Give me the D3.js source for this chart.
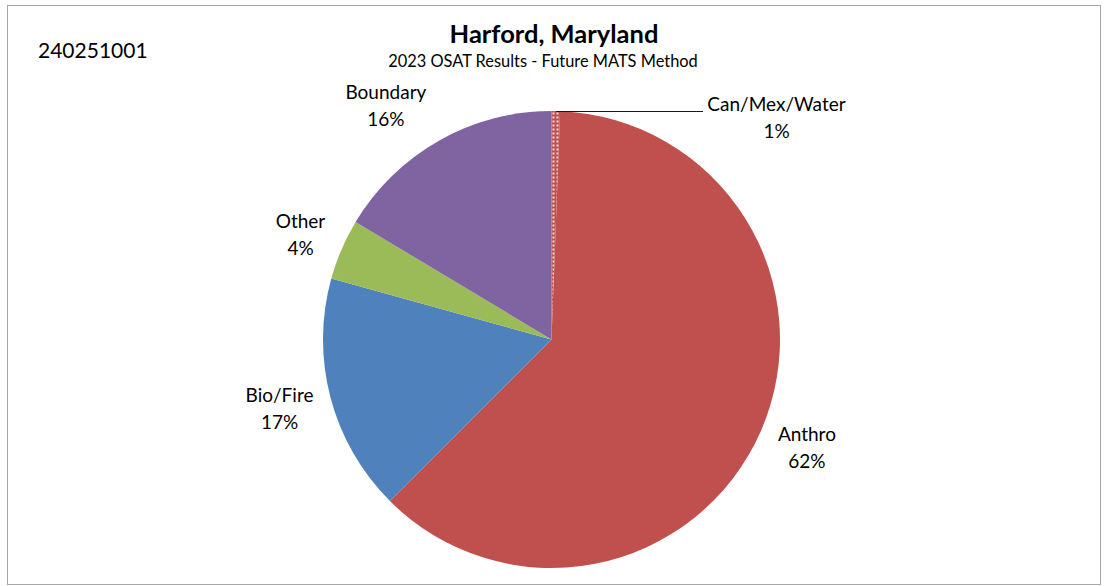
<!DOCTYPE html>
<html><head><meta charset="utf-8">
<script src="https://cdn.jsdelivr.net/npm/d3@7"></script>
<style>body{margin:0;background:#fff}svg{display:block}text{font-family:Lato,"Open Sans",sans-serif;fill:#000}</style>
</head><body><svg id="c" width="1108" height="586"></svg>
<script>
const categories = ["Can/Mex/Water", "Anthro", "Bio/Fire", "Other", "Boundary"];
const values = [0.6, 61.9, 16.8, 4.3, 16.4];
const colors = ["#C0504D", "#C0504D", "#4F81BD", "#9BBB59", "#8064A2"];
const siteId = "240251001";
const title = "Harford, Maryland";
const subtitle = "2023 OSAT Results - Future MATS Method";

// layout
const W = 1108, H = 586, cx = 551.5, cy = 339.5, R = 228.5;
const labelNudge = [[0,0],[46,19],[-51,13],[-41,-13],[-53,-33]];

const svg = d3.select("#c");
svg.append("rect").attr("x",7.5).attr("y",5.5).attr("width",1093).attr("height",579)
  .attr("fill","#fff").attr("stroke","#a6a6a6").attr("stroke-width",1);

const defs = svg.append("defs");
const pat = defs.append("pattern").attr("id","dots").attr("patternUnits","userSpaceOnUse")
  .attr("width",4).attr("height",4);
pat.append("rect").attr("width",4).attr("height",4).attr("fill","#C0504D");
pat.append("rect").attr("x",1).attr("y",1).attr("width",2).attr("height",2).attr("fill","#f4dcdb");

svg.append("text").attr("x",554).attr("y",36.5).attr("text-anchor","middle")
  .attr("dominant-baseline","middle").style("font-weight","bold").style("font-size","25.5px").text(title);
svg.append("text").attr("x",543).attr("y",62.5).attr("text-anchor","middle")
  .attr("dominant-baseline","middle").style("font-size","16.4px").text(subtitle);
svg.append("text").attr("x",38).attr("y",53).attr("dominant-baseline","middle")
  .style("font-size","21px").text(siteId);

const pie = d3.pie().sort(null).value(d=>d)(values);
const arc = d3.arc().innerRadius(0).outerRadius(R);
const g = svg.append("g").attr("transform",`translate(${cx},${cy})`);
g.selectAll("path").data(pie).join("path")
  .attr("d",arc)
  .attr("fill",(d,i)=> i===0 ? "url(#dots)" : colors[i]);

const total = d3.sum(values);
pie.forEach((d,i)=>{
  const a = (d.startAngle+d.endAngle)/2;
  const rx = cx + R*Math.sin(a), ry = cy - R*Math.cos(a);
  let lx, ly;
  if(i===0){
    svg.append("line").attr("x1",rx).attr("y1",cy-R+0.5).attr("x2",703).attr("y2",cy-R+0.5)
      .attr("stroke","#1a1a1a").attr("stroke-width",1);
    lx = 776.5; ly = 120;
  } else {
    lx = rx + labelNudge[i][0]; ly = ry + labelNudge[i][1];
  }
  const pct = Math.round(values[i]/total*100) + "%";
  svg.append("text").attr("x",lx).attr("y",ly-13.5).attr("text-anchor","middle")
    .attr("dominant-baseline","middle").style("font-size","19px").text(categories[i]);
  svg.append("text").attr("x",lx).attr("y",ly+13.5).attr("text-anchor","middle")
    .attr("dominant-baseline","middle").style("font-size","19px").text(pct);
});
</script></body></html>
